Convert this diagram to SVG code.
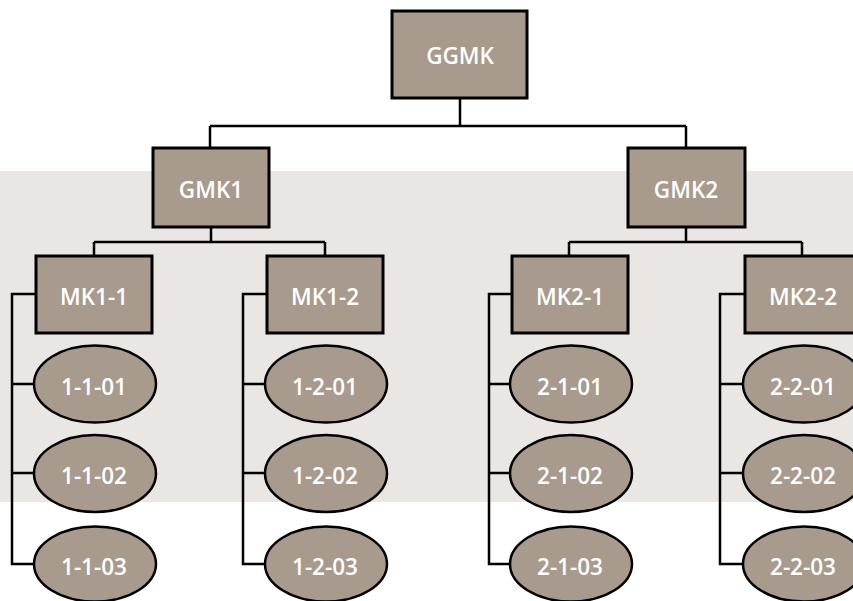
<svg xmlns="http://www.w3.org/2000/svg" width="853" height="601" viewBox="0 0 853 601">
<style>
.box{fill:#a89a8d;stroke:#000;stroke-width:3}
.ell{fill:#a89a8d;stroke:#000;stroke-width:2.5}
.lbl{fill:#fff;font-family:"Open Sans","Noto Sans",sans-serif;font-weight:600;font-size:22.5px;text-anchor:middle;dominant-baseline:central}
.con{fill:none;stroke:#000;stroke-width:2.5}
</style>
<rect x="0" y="171" width="853" height="331" fill="#eae6e3"/>
<g id="connectors">
<path class="con" d="M460 98V126M210 126H686M210 126V148M686 126V148"/>
<path class="con" d="M211 227V242M94 242H325M94 242V256M325 242V256"/>
<path class="con" d="M686 227V242M569 242H802M569 242V256M802 242V256"/>
<path class="con" d="M36 294H12V564H35M12 384H35M12 473H35"/>
<path class="con" d="M267 294H243V564H266M243 384H266M243 473H266"/>
<path class="con" d="M512 294H489V564H511M489 384H511M489 473H511"/>
<path class="con" d="M745 294H720V564H744M720 384H744M720 473H744"/>
</g>
<g id="GGMK"><rect class="box" x="392" y="11" width="135" height="87"/><text class="lbl" x="460" y="55">GGMK</text></g>
<g id="GMK1"><rect class="box" x="153" y="148" width="116" height="79"/><text class="lbl" x="211" y="189">GMK1</text></g>
<g id="GMK2"><rect class="box" x="628" y="148" width="117" height="79"/><text class="lbl" x="686" y="189">GMK2</text></g>
<g id="MK1-1"><rect class="box" x="36" y="256" width="116" height="77"/><text class="lbl" x="94" y="296">MK1-1</text></g>
<g id="MK1-2"><rect class="box" x="267" y="256" width="116" height="77"/><text class="lbl" x="325" y="296">MK1-2</text></g>
<g id="MK2-1"><rect class="box" x="512" y="256" width="116" height="77"/><text class="lbl" x="570" y="296">MK2-1</text></g>
<g id="MK2-2"><rect class="box" x="745" y="256" width="116" height="77"/><text class="lbl" x="803" y="296">MK2-2</text></g>
<g id="n1-1-01"><ellipse class="ell" cx="95" cy="384" rx="61" ry="38.5"/><text class="lbl" x="94" y="386">1-1-01</text></g>
<g id="n1-1-02"><ellipse class="ell" cx="95" cy="473.5" rx="61" ry="38.5"/><text class="lbl" x="94" y="475">1-1-02</text></g>
<g id="n1-1-03"><ellipse class="ell" cx="95" cy="564" rx="61" ry="37.5"/><text class="lbl" x="94" y="566">1-1-03</text></g>
<g id="n1-2-01"><ellipse class="ell" cx="326" cy="384" rx="61" ry="38.5"/><text class="lbl" x="325" y="386">1-2-01</text></g>
<g id="n1-2-02"><ellipse class="ell" cx="326" cy="473.5" rx="61" ry="38.5"/><text class="lbl" x="325" y="475">1-2-02</text></g>
<g id="n1-2-03"><ellipse class="ell" cx="326" cy="564" rx="61" ry="37.5"/><text class="lbl" x="325" y="566">1-2-03</text></g>
<g id="n2-1-01"><ellipse class="ell" cx="571" cy="384" rx="61" ry="38.5"/><text class="lbl" x="570" y="386">2-1-01</text></g>
<g id="n2-1-02"><ellipse class="ell" cx="571" cy="473.5" rx="61" ry="38.5"/><text class="lbl" x="570" y="475">2-1-02</text></g>
<g id="n2-1-03"><ellipse class="ell" cx="571" cy="564" rx="61" ry="37.5"/><text class="lbl" x="570" y="566">2-1-03</text></g>
<g id="n2-2-01"><ellipse class="ell" cx="804" cy="384" rx="61" ry="38.5"/><text class="lbl" x="803" y="386">2-2-01</text></g>
<g id="n2-2-02"><ellipse class="ell" cx="804" cy="473.5" rx="61" ry="38.5"/><text class="lbl" x="803" y="475">2-2-02</text></g>
<g id="n2-2-03"><ellipse class="ell" cx="804" cy="564" rx="61" ry="37.5"/><text class="lbl" x="803" y="566">2-2-03</text></g>
</svg>
